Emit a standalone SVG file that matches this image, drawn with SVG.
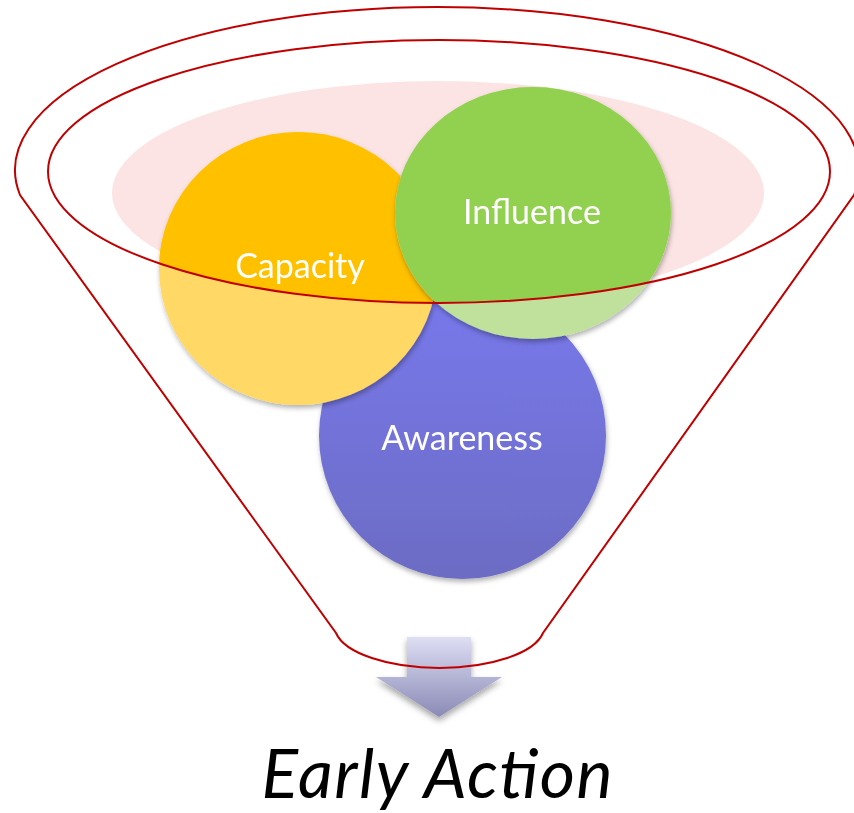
<svg xmlns="http://www.w3.org/2000/svg" width="854" height="813" viewBox="0 0 854 813">
  <defs>
    <style>
      .rim { fill: none; stroke: #C00000; stroke-width: 2; }
      .label { font-family: Lato, "Open Sans", "Liberation Sans", sans-serif; font-size: 34px; fill: #FFFFFF; text-anchor: middle; }
      .title { font-family: Lato, "Open Sans", "Liberation Sans", sans-serif; font-size: 68px; font-style: italic; fill: #000000; text-anchor: middle; }
    </style>
    <filter id="shadow" x="-10%" y="-10%" width="120%" height="125%">
      <feDropShadow dx="1" dy="3" stdDeviation="2.5" flood-color="#000000" flood-opacity="0.3"/>
    </filter>
    <filter id="arrowShadow" x="-20%" y="-20%" width="140%" height="150%">
      <feDropShadow dx="0" dy="4" stdDeviation="3" flood-color="#000000" flood-opacity="0.35"/>
    </filter>
    <clipPath id="rimClip">
      <ellipse cx="439" cy="171.5" rx="391" ry="131.5"/>
    </clipPath>
    <linearGradient id="awarenessFill" x1="0" y1="0" x2="0" y2="1">
      <stop offset="0" stop-color="#7878EC"/>
      <stop offset="1" stop-color="#6C6CC4"/>
    </linearGradient>
    <linearGradient id="arrowFill" x1="0" y1="0" x2="0" y2="1">
      <stop offset="0" stop-color="#DEDEF4"/>
      <stop offset="1" stop-color="#8A8AB6"/>
    </linearGradient>
  </defs>

  <!-- pink pool inside the funnel mouth -->
  <ellipse id="pool" cx="438" cy="193" rx="326" ry="112" fill="#FDE4E4"/>

  <g id="awareness" filter="url(#shadow)">
    <circle cx="462.5" cy="435.5" r="143.5" fill="url(#awarenessFill)"/>
    <text class="label" x="462" y="450">Awareness</text>
  </g>

  <g id="capacity" filter="url(#shadow)">
    <ellipse cx="298" cy="268.5" rx="139" ry="136.5" fill="#FFD866"/>
    <ellipse cx="298" cy="268.5" rx="139" ry="136.5" fill="#FFC000" clip-path="url(#rimClip)"/>
    <text class="label" x="300" y="278">Capacity</text>
  </g>

  <g id="influence" filter="url(#shadow)">
    <ellipse cx="533" cy="213" rx="138" ry="126" fill="#BFE19B"/>
    <ellipse cx="533" cy="213" rx="138" ry="126" fill="#92D050" clip-path="url(#rimClip)"/>
    <text class="label" x="532" y="224">Influence</text>
  </g>

  <!-- inner rim of the funnel -->
  <ellipse id="inner-rim" class="rim" cx="439" cy="171.5" rx="391" ry="131.5"/>

  <g id="connectors">
    <path id="down-arrow" filter="url(#arrowShadow)" fill="url(#arrowFill)"
          d="M407,637 L471,637 L471,677 L502,677 L439,717 L376,677 L407,677 Z"/>
  </g>

  <!-- funnel outline: outer rim, sloping sides and rounded spout -->
  <path id="funnel" class="rim"
        d="M20,195 A422,163 0 1 1 854,195 L543,633 A105,42 0 0 1 336,633 Z"/>

  <g id="early-action">
    <text class="title" x="437" y="798" textLength="351" lengthAdjust="spacing">Early Action</text>
  </g>
</svg>
